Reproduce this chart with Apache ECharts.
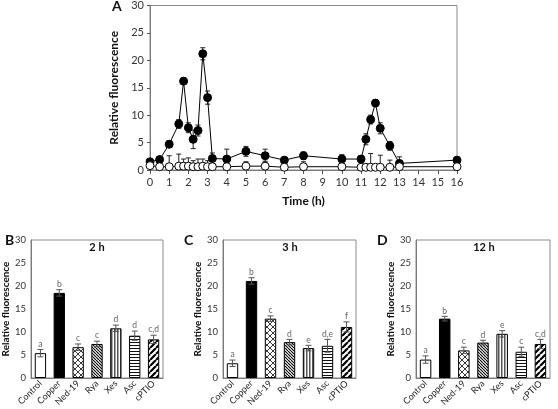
<!DOCTYPE html>
<html><head><meta charset="utf-8">
<script src="https://cdn.jsdelivr.net/npm/echarts@6/dist/echarts.min.js"></script>
<style>html,body{margin:0;padding:0;background:#fff}#c{width:558px;height:409px}</style>
</head><body><div id="c"></div>
<script>
// ---------- Panel A data ----------
const timeH = [0,0.5,1,1.5,1.75,2,2.25,2.5,2.75,3,3.25,4,5,6,7,8,10,11,11.25,11.5,11.75,12,12.5,13,16];
const copperMean = [1.5,1.9,4.7,8.4,16.2,7.7,5.6,7.2,21.2,13.2,2.1,2.0,3.4,2.6,1.8,2.6,2.0,2.0,5.6,9.2,12.2,7.6,4.4,1.2,1.8];
const copperErr  = [0.4,0.3,0.6,0.8,0.6,0.9,1.7,1.0,1.1,1.2,1.0,1.8,0.9,1.2,0.5,0.7,0.8,0.6,1.0,0.8,0.6,1.0,0.8,1.2,0.3];
const controlMean = [0.8,0.6,0.6,0.7,0.7,0.7,0.6,0.6,0.7,0.6,0.6,0.6,0.7,0.7,0.5,0.6,0.6,0.5,0.5,0.5,0.5,0.5,0.5,0.6,0.6];
const controlErrUp = [0.3,0.2,2.0,2.2,1.3,1.5,1.1,1.4,1.3,1.1,0.4,0.3,0.8,0.9,0.3,0.9,0.3,0.3,0.4,2.5,0.4,2.2,1.3,0.5,0.2];
const timeTicks = [0,1,2,3,4,5,6,7,8,9,10,11,12,13,14,15,16];

// ---------- Panels B, C, D data ----------
const treatments = ['Control','Copper','Ned-19','Rya','Xes','Asc','cPTIO'];
const mean2h  = [5.4,18.5,6.7,7.4,10.8,9.2,8.4];
const err2h   = [0.8,0.7,0.7,0.6,0.7,1.0,0.9];
const sig2h   = ['a','b','c','c','d','d','c,d'];
const mean3h  = [3.2,21.1,12.9,7.8,6.5,7.0,11.1];
const err3h   = [0.7,0.7,0.6,0.6,0.6,1.4,1.1];
const sig3h   = ['a','b','c','d','e','d,e','f'];
const mean12h = [4.0,12.9,6.0,7.7,9.6,5.7,7.4];
const err12h  = [0.8,0.5,0.7,0.5,0.7,1.0,1.0];
const sig12h  = ['a','b','c','d','e','c','c,d'];
const yTicks = [0,5,10,15,20,25,30];

const FONT = 'Lato, "Noto Sans", sans-serif';

// ---------- patterns ----------
function mk(w,h,draw){const c=document.createElement('canvas');c.width=w;c.height=h;const g=c.getContext('2d');g.fillStyle='#fff';g.fillRect(0,0,w,h);draw(g,w,h);return c;}
const patCross = mk(6,6,(g,w,h)=>{g.strokeStyle='#222';g.lineWidth=0.9;g.beginPath();g.moveTo(0,0);g.lineTo(w,h);g.moveTo(w,0);g.lineTo(0,h);g.stroke();});
const patBack = mk(3,3,(g,w,h)=>{g.strokeStyle='#000';g.lineWidth=1.1;g.beginPath();
  for(let k=-1;k<=1;k++){g.moveTo(k*w,0);g.lineTo(k*w+w,h);} g.stroke();});
const patVert = mk(3,2,(g,w,h)=>{g.fillStyle='#555';g.fillRect(0,0,1.5,h);});
const patHor = mk(2,3,(g,w,h)=>{g.fillStyle='#111';g.fillRect(0,0,w,1);});
const patFwd = mk(6,6,(g,w,h)=>{g.strokeStyle='#000';g.lineWidth=2.2;g.beginPath();
  for(let k=-1;k<=1;k++){g.moveTo(k*w,h);g.lineTo(k*w+w,0);} g.stroke();});
const fills = ['#fff','#000',{image:patCross,repeat:'repeat'},{image:patBack,repeat:'repeat'},{image:patVert,repeat:'repeat'},{image:patHor,repeat:'repeat'},{image:patFwd,repeat:'repeat'}];

const grids = [
  {left:150, top:5, width:307, height:165},
  {left:31, top:240, width:132, height:138},
  {left:223, top:240, width:133, height:138},
  {left:416, top:240, width:134, height:138}
];
grids.forEach(g=>{g.show=true;g.borderColor='#8c8c8c';g.borderWidth=1;g.backgroundColor='transparent';g.containLabel=false;});

const axisLineStyle = {lineStyle:{color:'#7a7a7a',width:1}};
const xAxes = [{
  gridIndex:0, type:'value', min:0, max:16, interval:1,
  axisLine:{show:true,onZero:false,...axisLineStyle}, axisTick:{show:true,length:4,inside:false,lineStyle:{color:'#555'}},
  splitLine:{show:false},
  axisLabel:{fontSize:11,color:'#333',margin:7,fontFamily:FONT},
  name:'Time (h)', nameLocation:'middle', nameGap:25,
  nameTextStyle:{fontSize:12,fontWeight:'bold',color:'#111',fontFamily:FONT}
}];
const yAxes = [{
  gridIndex:0, type:'value', min:0, max:30, interval:5,
  axisLine:{show:true,...axisLineStyle}, axisTick:{show:true,length:3,lineStyle:{color:'#555'}},
  splitLine:{show:false},
  axisLabel:{fontSize:11,color:'#333',margin:6,fontFamily:FONT},
  name:'Relative fluorescence', nameLocation:'middle', nameGap:22,
  nameTextStyle:{fontSize:12,fontWeight:'bold',color:'#111',fontFamily:FONT}
}];
for(let i=1;i<=3;i++){
  xAxes.push({gridIndex:i,type:'category',data:treatments,boundaryGap:true,
    axisLine:{show:true,...axisLineStyle},axisTick:{show:false},
    axisLabel:{rotate:45,fontSize:9,color:'#222',margin:4,interval:0,fontFamily:FONT}});
  yAxes.push({gridIndex:i,type:'value',min:0,max:30,interval:5,
    axisLine:{show:true,...axisLineStyle},axisTick:{show:false},splitLine:{show:false},
    axisLabel:{fontSize:9.5,color:'#333',margin:5,fontFamily:FONT},
    name:'Relative fluorescence',nameLocation:'middle',nameGap:20,
    nameTextStyle:{fontSize:10,fontWeight:'bold',color:'#111',fontFamily:FONT}});
}

const series = [];
// Panel A error bars (copper, symmetric)
series.push({type:'custom',xAxisIndex:0,yAxisIndex:0,z:1,silent:true,
  data: timeH.map((t,i)=>[t,copperMean[i]-copperErr[i],copperMean[i]+copperErr[i]]),
  renderItem:(p,api)=>{const lo=api.coord([api.value(0),api.value(1)]);const hi=api.coord([api.value(0),api.value(2)]);
    return {type:'group',children:[
      {type:'line',shape:{x1:lo[0],y1:lo[1],x2:hi[0],y2:hi[1]},style:{stroke:'#222',lineWidth:1}},
      {type:'line',shape:{x1:hi[0]-2.5,y1:hi[1],x2:hi[0]+2.5,y2:hi[1]},style:{stroke:'#222',lineWidth:1}},
      {type:'line',shape:{x1:lo[0]-2.5,y1:lo[1],x2:lo[0]+2.5,y2:lo[1]},style:{stroke:'#222',lineWidth:1}}]};}
});
// Panel A error bars (control, upper only)
series.push({type:'custom',xAxisIndex:0,yAxisIndex:0,z:1,silent:true,
  data: timeH.map((t,i)=>[t,controlMean[i],controlMean[i]+controlErrUp[i]]),
  renderItem:(p,api)=>{const lo=api.coord([api.value(0),api.value(1)]);const hi=api.coord([api.value(0),api.value(2)]);
    return {type:'group',children:[
      {type:'line',shape:{x1:lo[0],y1:lo[1],x2:hi[0],y2:hi[1]},style:{stroke:'#222',lineWidth:1}},
      {type:'line',shape:{x1:hi[0]-2.5,y1:hi[1],x2:hi[0]+2.5,y2:hi[1]},style:{stroke:'#222',lineWidth:1}}]};}
});
series.push({type:'line',xAxisIndex:0,yAxisIndex:0,z:3,data:timeH.map((t,i)=>[t,copperMean[i]]),
  symbol:'circle',symbolSize:8,lineStyle:{color:'#000',width:1},itemStyle:{color:'#000',borderColor:'#000'},animation:false});
series.push({type:'line',xAxisIndex:0,yAxisIndex:0,z:4,data:timeH.map((t,i)=>[t,controlMean[i]]),
  symbol:'circle',symbolSize:8,showAllSymbol:true,lineStyle:{color:'#000',width:1},itemStyle:{color:'#fff',borderColor:'#000',borderWidth:1},animation:false});

const panels = [[mean2h,err2h,sig2h],[mean3h,err3h,sig3h],[mean12h,err12h,sig12h]];
panels.forEach(([m,e,s],k)=>{
  const gi=k+1;
  series.push({type:'bar',xAxisIndex:gi,yAxisIndex:gi,barWidth:'60%',z:2,animation:false,
    data:m.map((v,i)=>({value:v,itemStyle:{color:fills[i],borderColor:'#000',borderWidth:1}}))});
  series.push({type:'custom',xAxisIndex:gi,yAxisIndex:gi,z:5,silent:true,
    data:m.map((v,i)=>[i,v-e[i],v+e[i],s[i]]),
    renderItem:(p,api)=>{const lo=api.coord([api.value(0),api.value(1)]);const hi=api.coord([api.value(0),api.value(2)]);
      const lbl=s[p.dataIndex];
      return {type:'group',children:[
        {type:'line',shape:{x1:lo[0],y1:lo[1],x2:hi[0],y2:hi[1]},style:{stroke:'#555',lineWidth:1}},
        {type:'line',shape:{x1:hi[0]-3,y1:hi[1],x2:hi[0]+3,y2:hi[1]},style:{stroke:'#555',lineWidth:1}},
        {type:'line',shape:{x1:lo[0]-3,y1:lo[1],x2:lo[0]+3,y2:lo[1]},style:{stroke:'#555',lineWidth:1}},
        {type:'text',style:{text:lbl,x:hi[0],y:hi[1]-1,align:'center',verticalAlign:'bottom',fontSize:8.5,fill:'#666',fontFamily:FONT}}]};}
  });
});

const txt=(t,x,y,size,align)=>({type:'text',left:x,top:y,style:{text:t,fontSize:size,fontWeight:'bold',fill:'#111',fontFamily:FONT,align:align||'left'}});
const option = {
  animation:false,
  grid:grids, xAxis:xAxes, yAxis:yAxes, series:series,
  graphic:[
    txt('A',112,-1,14),
    txt('B',5,233,14),
    txt('C',184,233,14),
    txt('D',377,233,14),
    {type:'text',x:97,y:242,style:{text:'2 h',fontSize:11,fontWeight:'bold',fill:'#111',fontFamily:FONT,align:'center'}},
    {type:'text',x:290,y:242,style:{text:'3 h',fontSize:11,fontWeight:'bold',fill:'#111',fontFamily:FONT,align:'center'}},
    {type:'text',x:484,y:242,style:{text:'12 h',fontSize:11,fontWeight:'bold',fill:'#111',fontFamily:FONT,align:'center'}}
  ]
};
const chart = echarts.init(document.getElementById('c'),null,{renderer:'canvas'});
chart.setOption(option);
</script></body></html>
